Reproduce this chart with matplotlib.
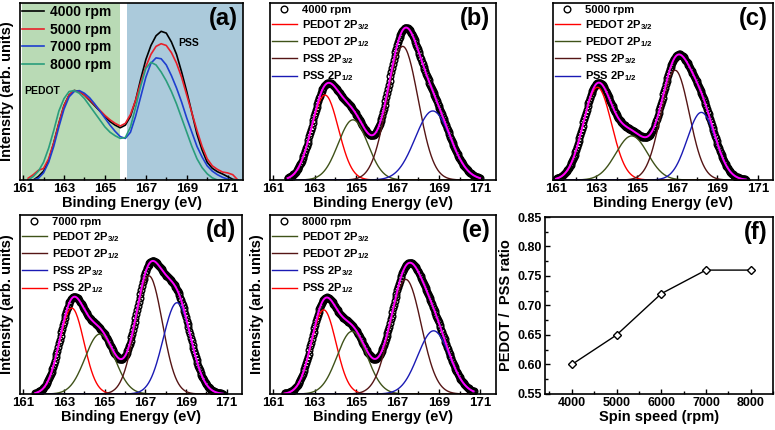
import numpy as np
import matplotlib
matplotlib.use("Agg")
import matplotlib.pyplot as plt
from matplotlib.ticker import MultipleLocator

plt.rcParams['font.family'] = ['Liberation Sans', 'DejaVu Sans']
plt.rcParams['font.weight'] = 'bold'
plt.rcParams['axes.labelweight'] = 'bold'
plt.rcParams['mathtext.fontset'] = 'custom'
plt.rcParams['mathtext.rm'] = 'Liberation Sans:bold'
plt.rcParams['mathtext.it'] = 'Liberation Sans:bold'
plt.rcParams['mathtext.bf'] = 'Liberation Sans:bold'

# ---- panel (a): normalised S 2p spectra, sampled every 0.25 eV ----
energy_a = [161.25 + 0.25 * i for i in range(42)]
spec_4000 = [0.0, 0.0, 0.02, 0.05, 0.11, 0.21, 0.32, 0.42, 0.48, 0.506, 0.50, 0.48,
             0.45, 0.42, 0.39, 0.36, 0.33, 0.31, 0.295, 0.31, 0.36, 0.45, 0.57, 0.68,
             0.76, 0.815, 0.84, 0.83, 0.78, 0.71, 0.61, 0.50, 0.38, 0.26, 0.17, 0.10,
             0.066, 0.047, 0.034, 0.019, 0.004, 0.0]
spec_5000 = [0.01, 0.03, 0.055, 0.065, 0.12, 0.21, 0.32, 0.42, 0.48, 0.505, 0.50, 0.48,
             0.455, 0.425, 0.395, 0.365, 0.34, 0.32, 0.305, 0.32, 0.37, 0.45, 0.55, 0.64,
             0.71, 0.755, 0.77, 0.76, 0.72, 0.66, 0.58, 0.48, 0.38, 0.28, 0.19, 0.12,
             0.08, 0.06, 0.045, 0.04, 0.03, 0.0]
spec_7000 = [0.0, 0.0, 0.01, 0.04, 0.10, 0.19, 0.30, 0.40, 0.47, 0.50, 0.505, 0.49,
             0.465, 0.43, 0.39, 0.35, 0.31, 0.275, 0.245, 0.235, 0.27, 0.36, 0.47, 0.58,
             0.66, 0.69, 0.685, 0.65, 0.59, 0.52, 0.44, 0.35, 0.27, 0.19, 0.13, 0.08,
             0.05, 0.03, 0.015, 0.005, 0.0, 0.0]
spec_8000 = [0.0, 0.02, 0.05, 0.10, 0.18, 0.28, 0.39, 0.46, 0.50, 0.505, 0.49, 0.46,
             0.42, 0.38, 0.34, 0.30, 0.27, 0.25, 0.235, 0.24, 0.30, 0.41, 0.53, 0.63,
             0.665, 0.65, 0.61, 0.56, 0.50, 0.43, 0.35, 0.27, 0.19, 0.12, 0.07, 0.035,
             0.012, 0.0, 0.0, 0.0, 0.0, 0.0]
speeds_a = ['4000 rpm', '5000 rpm', '7000 rpm', '8000 rpm']

# ---- panels (b)-(e): fitted peaks (centre eV, height, FWHM eV) ----
fit_labels = ['4000 rpm', '5000 rpm', '7000 rpm', '8000 rpm']
centers = [[163.50, 164.85, 167.25, 168.70],
           [163.05, 164.75, 166.90, 168.20],
           [163.39, 164.77, 167.18, 168.56],
           [163.44, 164.81, 167.40, 168.74]]
heights = [[0.48, 0.34, 0.755, 0.39],
           [0.524, 0.249, 0.62, 0.382],
           [0.48, 0.335, 0.66, 0.51],
           [0.47, 0.35, 0.64, 0.353]]
fwhms = [[1.53, 1.67, 1.75, 2.00],
         [1.65, 1.85, 1.65, 1.65],
         [1.41, 1.70, 1.55, 1.60],
         [1.40, 1.70, 1.75, 1.80]]
ranges = [(161.7, 171.0), (161.0, 170.4), (161.6, 170.8), (161.55, 170.7)]
comp_names_bc = ['PEDOT 2P$_{3/2}$', 'PEDOT 2P$_{1/2}$', 'PSS 2P$_{3/2}$', 'PSS 2P$_{1/2}$']
comp_names_de = ['PSS 2P$_{1/2}$', 'PEDOT 2P$_{3/2}$', 'PEDOT 2P$_{1/2}$', 'PSS 2P$_{3/2}$']
legend_order_de = [1, 2, 3, 0]

# ---- panel (f) ----
spin_speed = [4000, 5000, 6000, 7000, 8000]
ratio = [0.60, 0.65, 0.72, 0.76, 0.76]

comp_colors = ['#ff0000', '#3f5219', '#551515', '#1a1ab4']
fig = plt.figure(figsize=(7.75, 4.30), dpi=100)


def add_axes(l, t, r, b):
    return fig.add_axes([l / 775, 1 - b / 430, (r - l) / 775, (b - t) / 430])


def style_spec(ax):
    ax.set_xlim(160.85, 171.75)
    ax.set_ylim(0, 1)
    ax.set_xticks([161, 163, 165, 167, 169, 171])
    ax.xaxis.set_minor_locator(MultipleLocator(1))
    ax.set_yticks([])
    ax.tick_params(axis='x', which='both', direction='in', labelsize=9.5, width=1.0, pad=2.5)
    ax.tick_params(axis='x', which='major', length=3.5)
    ax.tick_params(axis='x', which='minor', length=2)
    ax.set_xlabel('Binding Energy (eV)', fontsize=10.5, labelpad=0.5)
    for s in ax.spines.values():
        s.set_linewidth(1.2)


def gauss(x, c, h, w):
    s = w / 2.3548
    return h * np.exp(-(x - c) ** 2 / (2 * s ** 2))


# (a)
ax = add_axes(20, 3, 243, 180)
ax.axvspan(160.93, 165.72, color='#b9dab5', lw=0)
ax.axvspan(166.06, 171.75, color='#abcadb', lw=0)
for y, c, lab in zip([spec_4000, spec_5000, spec_7000, spec_8000],
                     ['black', '#e8202a', '#1f3fcf', '#2a9d7c'], speeds_a):
    ax.plot(energy_a, y, color=c, lw=1.2, label=lab)
style_spec(ax)
ax.set_ylabel('Intensity (arb. units)', fontsize=10.5, labelpad=4)
ax.text(0.10, 0.505, 'PEDOT', transform=ax.transAxes, fontsize=7.5, ha='center', va='center')
ax.text(0.755, 0.775, 'PSS', transform=ax.transAxes, fontsize=7.5, ha='center', va='center')
ax.legend(loc='upper left', frameon=False, fontsize=10, handlelength=1.6,
          handletextpad=0.4, borderaxespad=0.0, labelspacing=0.25, borderpad=0.15)
ax.text(0.975, 0.975, '(a)', transform=ax.transAxes, fontsize=17, ha='right', va='top')

# (b)-(e)
boxes = [(270, 3, 496, 180), (553, 3, 773, 180), (20, 215, 242, 394), (270, 215, 496, 394)]
tags = ['(b)', '(c)', '(d)', '(e)']
for k in range(4):
    ax = add_axes(*boxes[k])
    lo, hi = ranges[k]
    x = np.arange(lo, hi + 0.001, 0.04)
    comps = [gauss(x, c, h, w) for c, h, w in zip(centers[k], heights[k], fwhms[k])]
    total = np.sum(comps, axis=0)
    names = comp_names_bc if k < 2 else comp_names_de
    hd, = ax.plot(x, total, ls='none', marker='o', ms=4.8, mfc='none', mec='black',
                  mew=1.0, label=fit_labels[k])
    hl = []
    for i in range(4):
        h, = ax.plot(x, comps[i], color=comp_colors[i], lw=1.0, label=names[i])
        hl.append(h)
    ax.plot(x, total, color='#ff00ff', lw=1.4)
    order = [0, 1, 2, 3] if k < 2 else legend_order_de
    style_spec(ax)
    if k >= 2:
        ax.set_ylabel('Intensity (arb. units)', fontsize=10.5, labelpad=4)
    ax.legend([hd] + [hl[i] for i in order], [fit_labels[k]] + [names[i] for i in order],
              loc='upper left', frameon=False, fontsize=8, handlelength=2.3,
              handletextpad=0.4, borderaxespad=0.05, labelspacing=0.3, borderpad=0.1)
    ax.text(0.975, 0.975, tags[k], transform=ax.transAxes, fontsize=17, ha='right', va='top')

# (f)
ax = add_axes(545, 217, 773, 394)
ax.plot(spin_speed, ratio, color='black', lw=1.0, marker='D', ms=4.5, mfc='white',
        mec='black', mew=1.0)
ax.set_xlim(3400, 8500)
ax.set_ylim(0.55, 0.85)
ax.set_xticks(spin_speed)
ax.set_yticks([0.55, 0.60, 0.65, 0.70, 0.75, 0.80, 0.85])
ax.set_yticklabels(['0.55', '0.60', '0.65', '0.70', '0.75', '0.80', '0.85'])
ax.xaxis.set_minor_locator(MultipleLocator(500))
ax.yaxis.set_minor_locator(MultipleLocator(0.025))
ax.tick_params(which='both', direction='in', labelsize=9, width=1.0, pad=2.5)
ax.tick_params(which='major', length=3.5)
ax.tick_params(which='minor', length=2)
ax.set_xlabel('Spin speed (rpm)', fontsize=10.5, labelpad=0.5)
ax.set_ylabel('PEDOT /  PSS ratio', fontsize=10.5, labelpad=3)
for s in ax.spines.values():
    s.set_linewidth(1.2)
ax.text(0.975, 0.975, '(f)', transform=ax.transAxes, fontsize=17, ha='right', va='top')

fig.savefig('out.png', dpi=100)
